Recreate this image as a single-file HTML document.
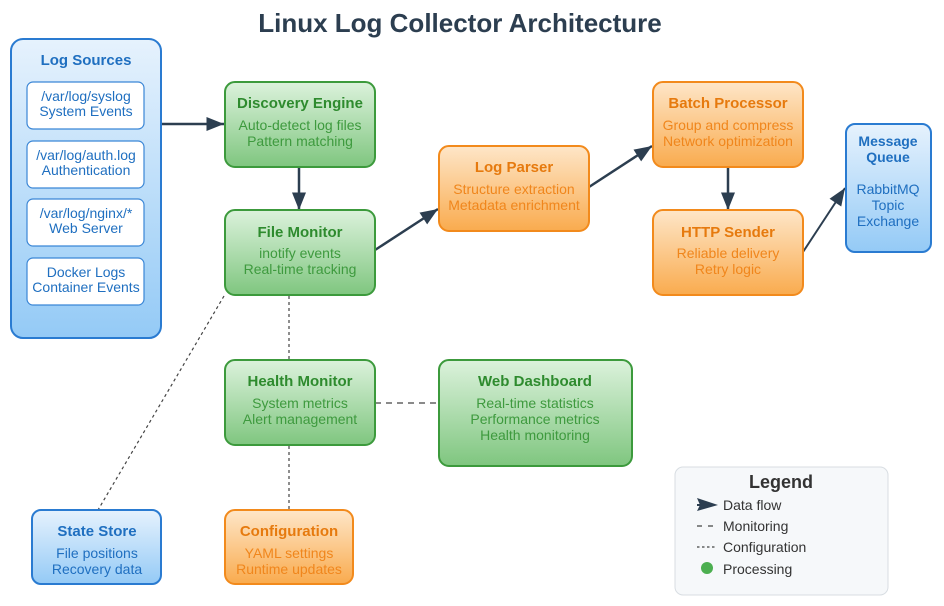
<!DOCTYPE html>
<html><head><meta charset="utf-8"><style>
html,body{margin:0;padding:0;background:#fff;}
svg{display:block;font-family:"Liberation Sans",Arial,sans-serif;}
</style></head><body>
<svg width="944" height="606" viewBox="0 0 944 606" xmlns="http://www.w3.org/2000/svg">
<defs>
<linearGradient id="gb" x1="0" y1="0" x2="0" y2="1"><stop offset="0" stop-color="#e6f2fd"/><stop offset="1" stop-color="#94caf6"/></linearGradient>
<linearGradient id="gg" x1="0" y1="0" x2="0" y2="1"><stop offset="0" stop-color="#dcf2dc"/><stop offset="1" stop-color="#7fc67f"/></linearGradient>
<linearGradient id="go" x1="0" y1="0" x2="0" y2="1"><stop offset="0" stop-color="#fee6c8"/><stop offset="1" stop-color="#f9ab4e"/></linearGradient>
<marker id="ar" markerWidth="10" markerHeight="8" refX="10" refY="4" orient="auto" markerUnits="userSpaceOnUse"><path d="M0,0 L20,4 L0,8 z" transform="scale(1)" fill="#2c3e50"/></marker>
<marker id="a2" viewBox="0 0 10 8" markerWidth="20" markerHeight="14" refX="10" refY="4" orient="auto" markerUnits="userSpaceOnUse"><path d="M0,0 L10,4 L0,8 z" fill="#2c3e50"/></marker>
</defs>
<text x="460" y="32" text-anchor="middle" font-size="26" font-weight="bold" fill="#2c3e50">Linux Log Collector Architecture</text>

<!-- connectors -->
<g stroke="#2c3e50" stroke-width="2.5" fill="none">
<line x1="161" y1="124" x2="224" y2="124" marker-end="url(#a2)"/>
<line x1="299" y1="167" x2="299" y2="210" marker-end="url(#a2)"/>
<line x1="375" y1="250" x2="438" y2="209" marker-end="url(#a2)"/>
<line x1="589" y1="187" x2="652" y2="146" marker-end="url(#a2)"/>
<line x1="728" y1="167" x2="728" y2="210" marker-end="url(#a2)"/>
<line x1="803" y1="252" x2="845" y2="188" marker-end="url(#a2)" stroke-width="2"/>
</g>
<g stroke="#444" stroke-width="1.2" fill="none">
<line x1="375" y1="403" x2="438" y2="403" stroke-dasharray="6,5"/>
<line x1="289" y1="296" x2="289" y2="510" stroke-dasharray="3,3"/>
<line x1="224" y1="296" x2="98" y2="510" stroke-dasharray="3,3"/>
</g>

<!-- Log Sources -->
<rect x="11" y="39" width="150" height="299" rx="12" fill="url(#gb)" stroke="#2a7bd1" stroke-width="2"/>
<text x="86" y="65" text-anchor="middle" font-size="15" font-weight="bold" fill="#1f6fc0">Log Sources</text>
<g fill="#fff" stroke="#3a86d6" stroke-width="1.2">
<rect x="27" y="82" width="117" height="47" rx="6"/>
<rect x="27" y="141" width="117" height="47" rx="6"/>
<rect x="27" y="199" width="117" height="47" rx="6"/>
<rect x="27" y="258" width="117" height="47" rx="6"/>
</g>
<g font-size="14" fill="#1f6fc0" text-anchor="middle">
<text x="86" y="101">/var/log/syslog</text><text x="86" y="116">System Events</text>
<text x="86" y="160">/var/log/auth.log</text><text x="86" y="175">Authentication</text>
<text x="86" y="218">/var/log/nginx/*</text><text x="86" y="233">Web Server</text>
<text x="86" y="277">Docker Logs</text><text x="86" y="292">Container Events</text>
</g>

<!-- green boxes -->
<g fill="url(#gg)" stroke="#3c9a3c" stroke-width="2">
<rect x="225" y="82" width="150" height="85" rx="10"/>
<rect x="225" y="210" width="150" height="85" rx="10"/>
<rect x="225" y="360" width="150" height="85" rx="10"/>
<rect x="439" y="360" width="193" height="106" rx="10"/>
</g>
<g text-anchor="middle" fill="#2e8b2e">
<text x="300" y="108" font-size="15" font-weight="bold">Discovery Engine</text>
<text x="300" y="130" font-size="14" fill="#3e9a3e">Auto-detect log files</text>
<text x="300" y="146" font-size="14" fill="#3e9a3e">Pattern matching</text>
<text x="300" y="237" font-size="15" font-weight="bold">File Monitor</text>
<text x="300" y="258" font-size="14" fill="#3e9a3e">inotify events</text>
<text x="300" y="274" font-size="14" fill="#3e9a3e">Real-time tracking</text>
<text x="300" y="386" font-size="15" font-weight="bold">Health Monitor</text>
<text x="300" y="408" font-size="14" fill="#3e9a3e">System metrics</text>
<text x="300" y="424" font-size="14" fill="#3e9a3e">Alert management</text>
<text x="535" y="386" font-size="15" font-weight="bold">Web Dashboard</text>
<text x="535" y="408" font-size="14" fill="#3e9a3e">Real-time statistics</text>
<text x="535" y="424" font-size="14" fill="#3e9a3e">Performance metrics</text>
<text x="535" y="440" font-size="14" fill="#3e9a3e">Health monitoring</text>
</g>

<!-- orange boxes -->
<g fill="url(#go)" stroke="#f28a1c" stroke-width="2">
<rect x="439" y="146" width="150" height="85" rx="10"/>
<rect x="653" y="82" width="150" height="85" rx="10"/>
<rect x="653" y="210" width="150" height="85" rx="10"/>
<rect x="225" y="510" width="128" height="74" rx="10"/>
</g>
<g text-anchor="middle" fill="#e67a0e">
<text x="514" y="172" font-size="15" font-weight="bold">Log Parser</text>
<text x="514" y="194" font-size="14" fill="#f0861c">Structure extraction</text>
<text x="514" y="210" font-size="14" fill="#f0861c">Metadata enrichment</text>
<text x="728" y="108" font-size="15" font-weight="bold">Batch Processor</text>
<text x="728" y="130" font-size="14" fill="#f0861c">Group and compress</text>
<text x="728" y="146" font-size="14" fill="#f0861c">Network optimization</text>
<text x="728" y="237" font-size="15" font-weight="bold">HTTP Sender</text>
<text x="728" y="258" font-size="14" fill="#f0861c">Reliable delivery</text>
<text x="728" y="274" font-size="14" fill="#f0861c">Retry logic</text>
<text x="289" y="536" font-size="15" font-weight="bold">Configuration</text>
<text x="289" y="558" font-size="14" fill="#f0861c">YAML settings</text>
<text x="289" y="574" font-size="14" fill="#f0861c">Runtime updates</text>
</g>

<!-- blue boxes -->
<g fill="url(#gb)" stroke="#2a7bd1" stroke-width="2">
<rect x="846" y="124" width="85" height="128" rx="9"/>
<rect x="32" y="510" width="129" height="74" rx="9"/>
</g>
<g text-anchor="middle" fill="#1f6fc0">
<text x="888" y="146" font-size="14" font-weight="bold">Message</text>
<text x="888" y="162" font-size="14" font-weight="bold">Queue</text>
<text x="888" y="194" font-size="14">RabbitMQ</text>
<text x="888" y="210" font-size="14">Topic</text>
<text x="888" y="226" font-size="14">Exchange</text>
<text x="97" y="536" font-size="15" font-weight="bold">State Store</text>
<text x="97" y="558" font-size="14">File positions</text>
<text x="97" y="574" font-size="14">Recovery data</text>
</g>

<!-- legend -->
<rect x="675" y="467" width="213" height="128" rx="8" fill="#f6f8fa" stroke="#d8dde2" stroke-width="1"/>
<text x="781" y="488" text-anchor="middle" font-size="18" font-weight="bold" fill="#333">Legend</text>
<path d="M697,498 L718,505 L697,511 L700,505 z" fill="#2c3e50"/>
<line x1="697" y1="505" x2="712" y2="505" stroke="#2c3e50" stroke-width="2"/>
<g font-size="14" fill="#333">
<text x="723" y="510">Data flow</text>
<text x="723" y="531">Monitoring</text>
<text x="723" y="552">Configuration</text>
<text x="723" y="574">Processing</text>
</g>
<line x1="697" y1="526" x2="717" y2="526" stroke="#444" stroke-width="1.2" stroke-dasharray="5,6"/>
<line x1="697" y1="547" x2="717" y2="547" stroke="#444" stroke-width="1.2" stroke-dasharray="2.5,2.5"/>
<circle cx="707" cy="568" r="6" fill="#4caf50"/>
</svg>
</body></html>
